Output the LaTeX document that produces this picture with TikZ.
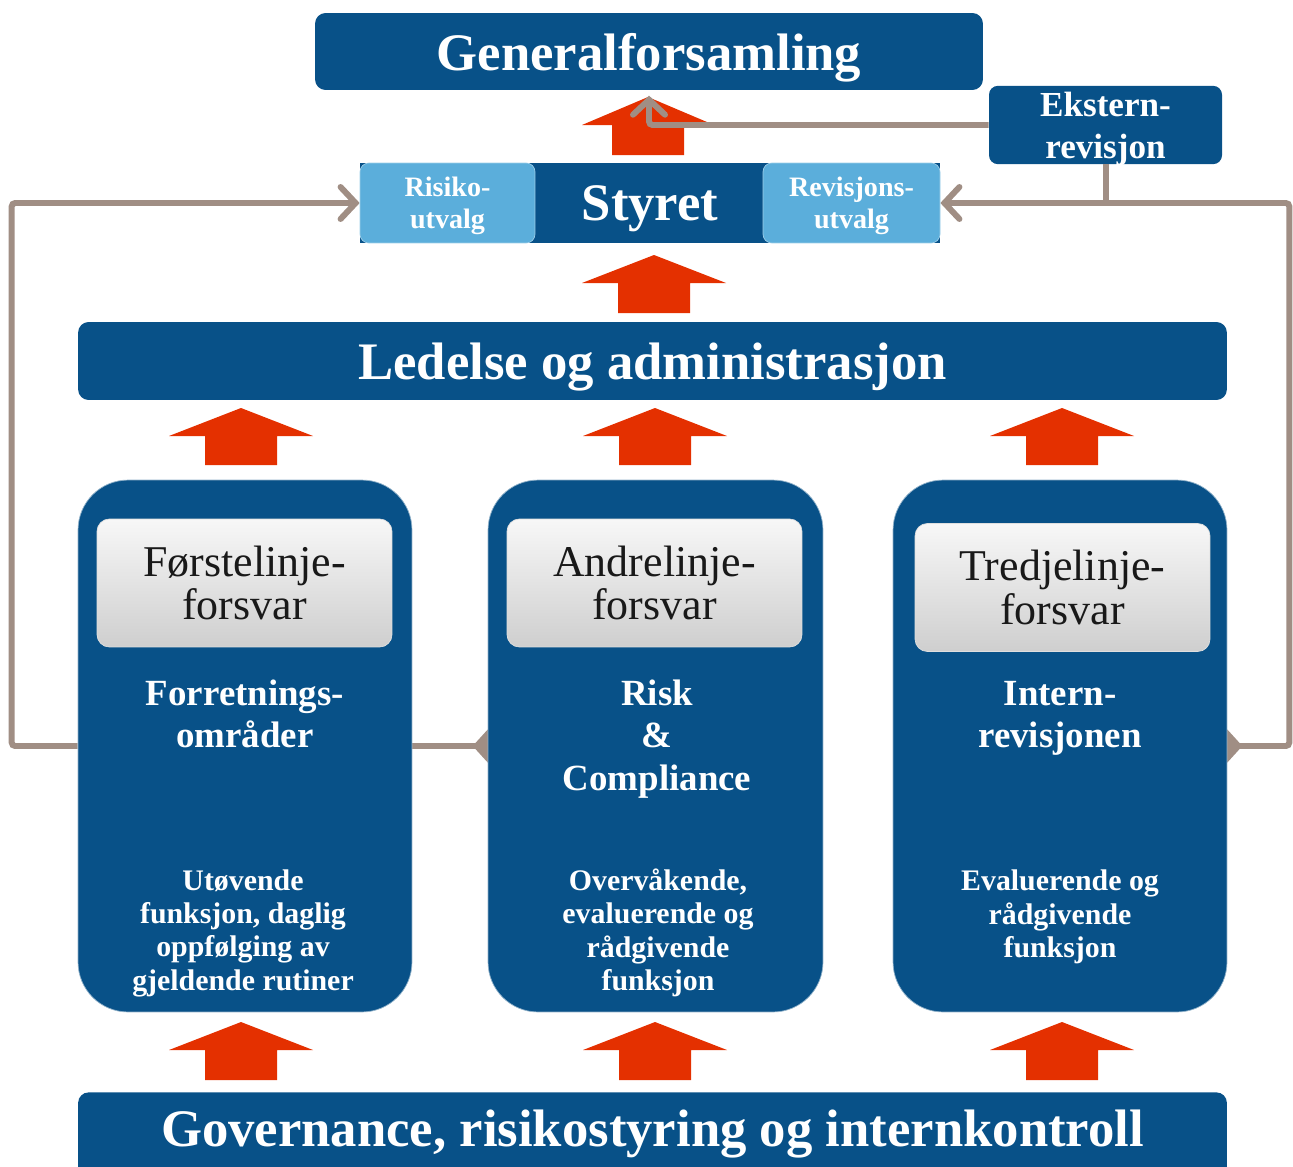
\documentclass[tikz,border=0pt]{standalone}
\usepackage{fontspec}
\setmainfont{Liberation Serif}
\usetikzlibrary{arrows.meta,backgrounds}

\definecolor{darkblue}{RGB}{8,81,136}
\definecolor{lightblue}{RGB}{91,174,219}
\definecolor{arrowred}{RGB}{228,48,0}
\definecolor{linegray}{RGB}{160,142,132}

\tikzset{
  bar/.style={fill=darkblue, rounded corners=6pt, text=white, text depth=0pt,
    font=\bfseries\fontsize{30}{34}\selectfont},
  subbox/.style={fill=lightblue, draw=lightblue!60!white, rounded corners=5pt,
    text=white, align=center, text depth=0pt, font=\bfseries\fontsize{16}{18}\selectfont},
  colbox/.style={fill=darkblue, draw=darkblue!45!white, rounded corners=1cm,
    minimum width=6.7cm, minimum height=10.64cm},
  linebox/.style={top color=gray!6, bottom color=gray!38, draw=gray!25,
    rounded corners=7pt, minimum width=5.9cm, minimum height=2.56cm,
    align=center, text=black!90, font=\fontsize{25}{25}\selectfont},
  coltitle/.style={text=white, align=center, font=\bfseries\fontsize{21}{24}\selectfont},
  coltext/.style={text=white, align=center, font=\bfseries\fontsize{17}{19}\selectfont},
  conn/.style={draw=linegray, line width=3.4pt, rounded corners=2pt},
  barb/.style={-{Straight Barb[length=3mm, width=6.4mm, line cap=round]}},
}
\newcommand\redarrow[4]{% x, tip, bottom, head half width
  \fill[arrowred] (#1-36,#3) -- (#1-36,#2+28) -- (#1-#4,#2+28) -- (#1,#2)
    -- (#1+#4,#2+28) -- (#1+36,#2+28) -- (#1+36,#3) -- cycle;}

\begin{document}
\begin{tikzpicture}[x=0.02cm, y=-0.02cm]
\useasboundingbox (0,0) rectangle (1293,1166);
\clip (0,0) rectangle (1293,1166);

% top
\node[bar, minimum width=13.36cm, minimum height=1.54cm] (gen) at (649,51.5) {Generalforsamling};
\node[bar, rounded corners=5pt, minimum width=4.66cm, minimum height=1.56cm, align=center,
  font=\bfseries\fontsize{20}{24}\selectfont] (ekst) at (1105.5,125) {Ekstern-\\revisjon};

% styret
\node[bar, rounded corners=0pt, minimum width=11.6cm, minimum height=1.6cm] (styret) at (650,203) {\hspace*{0pt}};
\node[subbox, minimum width=3.5cm, minimum height=1.6cm] (risk) at (447.5,203) {Risiko-\\utvalg};
\node[subbox, minimum width=3.54cm, minimum height=1.6cm] (revu) at (851.5,203) {Revisjons-\\utvalg};
\node[text=white, font=\bfseries\fontsize{30}{34}\selectfont] (styrettxt) at (650,209) {Styret};

\node[bar, minimum width=22.98cm, minimum height=1.56cm] (led) at (652.5,361) {Ledelse og administrasjon};

% three lines of defence
\node[colbox, minimum width=6.68cm] (c1) at (245,746) {};
\node[colbox] (c2) at (655.5,746) {};
\node[colbox, minimum width=6.68cm] (c3) at (1060,746) {};

\node[linebox] (l1) at (244.5,583) {Førstelinje-\\forsvar};
\node[linebox] (l2) at (654.5,583) {Andrelinje-\\forsvar};
\node[linebox] (l3) at (1062.5,587.5) {Tredjelinje-\\forsvar};

\node[coltitle] (t1) at (245,714) {Forretnings-\\områder};
\node[coltitle] (t2) at (657,739) {Risk\\\&\\Compliance};
\node[coltitle] (t3) at (1060,718) {Intern-\\revisjonen};

\node[coltext] (d1) at (243,933) {Utøvende\\funksjon, daglig\\oppfølging av\\gjeldende rutiner};
\node[coltext] (d2) at (658,933) {Overvåkende,\\evaluerende og\\rådgivende\\funksjon};
\node[coltext] (d3) at (1060,917) {Evaluerende og\\rådgivende\\funksjon};

\node[bar, minimum width=22.98cm, minimum height=1.76cm, anchor=north] (gov) at (652.5,1092)
  {\raisebox{9pt}{Governance, risikostyring og internkontroll}};

% red arrows
\redarrow{648}{97}{155}{66}
\redarrow{654}{255}{313}{72}
\foreach \x in {241,655,1062} {
  \redarrow{\x}{408}{465}{72}
  \redarrow{\x}{1022}{1080}{72}
}

% connectors
\begin{pgfonlayer}{background}
  \draw[conn, barb] (c1.west) -- ++(-66,0) |- (risk.west);
  \draw[conn, -{Diamond[length=6mm, width=6.6mm]}, shorten >=-3mm] (c1.east) -- (c2.west);
  \draw[conn, {Diamond[length=6mm, width=6.6mm]}-{Straight Barb[length=3mm, width=6.4mm, line cap=round]},
    shorten <=-3mm] (c3.east) -- ++(62,0) |- (revu.east);
\end{pgfonlayer}
\draw[conn] (ekst.south) -- (ekst.south |- revu.east);
\draw[conn, barb, shorten >=3pt] (ekst.west) -| (gen.south);
\end{tikzpicture}
\end{document}
